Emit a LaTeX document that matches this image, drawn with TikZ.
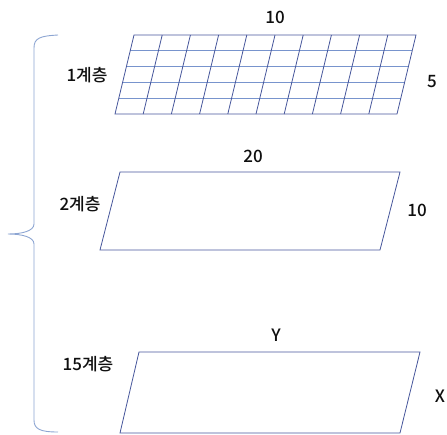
\documentclass[tikz,border=0pt]{standalone}
\usepackage{fontspec}
\setmainfont{Noto Sans CJK KR}[UprightFont=* Medium]
\usetikzlibrary{calc}
\definecolor{edgeblue}{RGB}{70,86,155}
\definecolor{gridblue}{RGB}{120,148,205}
\definecolor{bracecol}{RGB}{140,165,210}
\definecolor{txt}{RGB}{15,15,15}
\begin{document}
\begin{tikzpicture}[x=1pt,y=-1pt,
  edge/.style={draw=edgeblue,line width=0.8pt},
  gridline/.style={draw=gridblue,line width=0.8pt},
  lbl/.style={font=\fontsize{17}{19}\selectfont,text=txt,inner sep=0pt}]
\useasboundingbox (0,0) rectangle (447,434);
% layer 1 grid
\coordinate (a1) at (134,35);
\coordinate (b1) at (416,35);
\coordinate (c1) at (397,114);
\coordinate (d1) at (115,114);
\foreach \j in {1,...,4}{
  \draw[gridline] ($(a1)!\j/5!(d1)$) -- ($(b1)!\j/5!(c1)$);
}
\foreach \i in {1,...,9}{
  \draw[edge] ($(a1)!\i/10!(b1)$) -- ($(d1)!\i/10!(c1)$);
}
\draw[edge] (a1) -- (b1) -- (c1) -- (d1) -- cycle;
% layer 2
\coordinate (a2) at (120,172);
\coordinate (b2) at (400,172);
\coordinate (c2) at (380,250);
\coordinate (d2) at (100,250);
\draw[edge] (a2) -- (b2) -- (c2) -- (d2) -- cycle;
% layer 15
\coordinate (a3) at (139,352);
\coordinate (b3) at (420,352);
\coordinate (c3) at (400,433);
\coordinate (d3) at (120,433);
\draw[edge] (a3) -- (b3) -- (c3) -- (d3) -- cycle;
% labels
\node[lbl] (t1) at (275,17) {10};
\node[lbl] (r1) at (432,82) {5};
\node[lbl] (l1) at (87,75) {1계층};
\node[lbl] (t2) at (253,156) {20};
\node[lbl] (r2) at (417,210) {10};
\node[lbl] (l2) at (80,204) {2계층};
\node[lbl] (t3) at (276,335) {Y};
\node[lbl] (r3) at (440,396) {X};
\node[lbl] (l3) at (88,364) {15계층};
% brace
\draw[bracecol,line width=0.9pt]
  (58,35) .. controls (40,36) and (34,38) .. (34,48)
  -- (34,224) .. controls (34,231) and (22,234) .. (8,234)
  .. controls (22,234) and (34,237) .. (34,244)
  -- (34,420) .. controls (34,429) and (40,432) .. (58,432);
\end{tikzpicture}
\end{document}
